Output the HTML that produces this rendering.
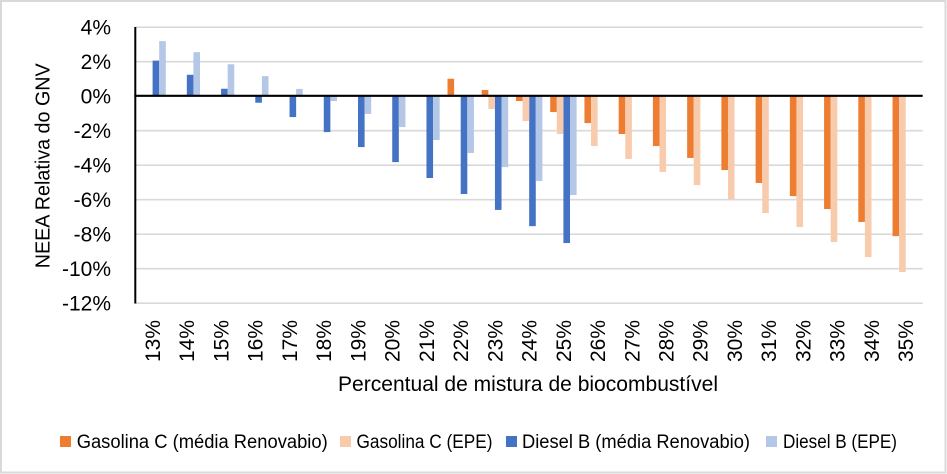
<!DOCTYPE html>
<html><head><meta charset="utf-8"><style>
html,body{margin:0;padding:0;background:#fff;}
svg{display:block;}
text{font-family:"Liberation Sans",Arial,sans-serif;fill:#000;}
</style></head><body>
<svg width="947" height="474" viewBox="0 0 947 474" xmlns="http://www.w3.org/2000/svg">
<rect x="0" y="0" width="947" height="474" fill="#fff"/>
<rect x="1" y="1" width="944.5" height="471.5" fill="none" stroke="#d9d9d9" stroke-width="2"/>
<g stroke="#d9d9d9" stroke-width="1.6">
<line x1="135.3" y1="27.2" x2="922.7" y2="27.2"/>
<line x1="135.3" y1="61.7" x2="922.7" y2="61.7"/>
<line x1="135.3" y1="130.7" x2="922.7" y2="130.7"/>
<line x1="135.3" y1="165.2" x2="922.7" y2="165.2"/>
<line x1="135.3" y1="199.7" x2="922.7" y2="199.7"/>
<line x1="135.3" y1="234.2" x2="922.7" y2="234.2"/>
<line x1="135.3" y1="268.7" x2="922.7" y2="268.7"/>
<line x1="135.3" y1="303.2" x2="922.7" y2="303.2"/>
</g>
<!-- Diesel B (média Renovabio) -->
<g fill="#4472c4">
<rect x="152.6" y="60.62" width="6.6" height="35.38"/>
<rect x="186.83" y="74.77" width="6.6" height="21.23"/>
<rect x="221.07" y="88.75" width="6.6" height="7.25"/>
<rect x="255.30" y="96" width="6.6" height="6.73"/>
<rect x="289.54" y="96" width="6.6" height="21.06"/>
<rect x="323.77" y="96" width="6.6" height="36.07"/>
<rect x="358.0" y="96" width="6.6" height="51.09"/>
<rect x="392.24" y="96" width="6.6" height="66.11"/>
<rect x="426.47" y="96" width="6.6" height="81.99"/>
<rect x="460.71" y="96" width="6.6" height="98.04"/>
<rect x="494.94" y="96" width="6.6" height="113.92"/>
<rect x="529.17" y="96" width="6.6" height="130.14"/>
<rect x="563.41" y="96" width="6.6" height="147.06"/>
</g>
<!-- Diesel B (EPE) -->
<g fill="#b4c7e7">
<rect x="159.2" y="41.11" width="6.6" height="54.89"/>
<rect x="193.43" y="52.16" width="6.6" height="43.84"/>
<rect x="227.67" y="64.24" width="6.6" height="31.76"/>
<rect x="261.90" y="76.15" width="6.6" height="19.85"/>
<rect x="296.14" y="88.92" width="6.6" height="7.08"/>
<rect x="330.37" y="96" width="6.6" height="5.01"/>
<rect x="364.6" y="96" width="6.6" height="17.95"/>
<rect x="398.84" y="96" width="6.6" height="31.07"/>
<rect x="433.07" y="96" width="6.6" height="44.01"/>
<rect x="467.31" y="96" width="6.6" height="56.96"/>
<rect x="501.54" y="96" width="6.6" height="71.11"/>
<rect x="535.77" y="96" width="6.6" height="85.09"/>
<rect x="570.01" y="96" width="6.6" height="99.07"/>
</g>
<!-- Gasolina C (média Renovabio) -->
<g fill="#ed7d31">
<rect x="447.51" y="78.74" width="6.6" height="17.26"/>
<rect x="481.74" y="89.96" width="6.6" height="6.04"/>
<rect x="515.97" y="96" width="6.6" height="5.01"/>
<rect x="550.21" y="96" width="6.6" height="16.05"/>
<rect x="584.44" y="96" width="6.6" height="27.10"/>
<rect x="618.68" y="96" width="6.6" height="37.97"/>
<rect x="652.91" y="96" width="6.6" height="50.05"/>
<rect x="687.14" y="96" width="6.6" height="61.96"/>
<rect x="721.38" y="96" width="6.6" height="74.05"/>
<rect x="755.61" y="96" width="6.6" height="86.99"/>
<rect x="789.85" y="96" width="6.6" height="100.11"/>
<rect x="824.08" y="96" width="6.6" height="113.05"/>
<rect x="858.31" y="96" width="6.6" height="126.0"/>
<rect x="892.55" y="96" width="6.6" height="140.15"/>
</g>
<!-- Gasolina C (EPE) -->
<g fill="#f8cbad">
<rect x="488.34" y="96" width="6.6" height="12.95"/>
<rect x="522.57" y="96" width="6.6" height="25.03"/>
<rect x="556.81" y="96" width="6.6" height="37.97"/>
<rect x="591.04" y="96" width="6.6" height="50.05"/>
<rect x="625.28" y="96" width="6.6" height="63.0"/>
<rect x="659.51" y="96" width="6.6" height="75.94"/>
<rect x="693.74" y="96" width="6.6" height="89.06"/>
<rect x="727.98" y="96" width="6.6" height="103.04"/>
<rect x="762.21" y="96" width="6.6" height="117.02"/>
<rect x="796.45" y="96" width="6.6" height="131.0"/>
<rect x="830.68" y="96" width="6.6" height="146.02"/>
<rect x="864.91" y="96" width="6.6" height="161.04"/>
<rect x="899.15" y="96" width="6.6" height="176.05"/>
</g>
<line x1="134.3" y1="95.8" x2="922.7" y2="95.8" stroke="#000" stroke-width="2.2"/>
<line x1="135.3" y1="27" x2="135.3" y2="303.5" stroke="#000" stroke-width="2"/>
<!-- Y labels -->
<g font-size="21" text-anchor="end">
<text x="111" y="34.7">4%</text>
<text x="111" y="69.2">2%</text>
<text x="111" y="103.7">0%</text>
<text x="111" y="138.2">-2%</text>
<text x="111" y="172.7">-4%</text>
<text x="111" y="207.2">-6%</text>
<text x="111" y="241.7">-8%</text>
<text x="111" y="276.2">-10%</text>
<text x="111" y="310.7">-12%</text>
</g>
<text transform="translate(49.5,165.8) rotate(-90)" font-size="20" text-anchor="middle" textLength="205" lengthAdjust="spacingAndGlyphs">NEEA Relativa do GNV</text>
<!-- X labels -->
<g font-size="21" text-anchor="end">
<text transform="translate(160,320) rotate(-90)">13%</text>
<text transform="translate(194.2,320) rotate(-90)">14%</text>
<text transform="translate(228.5,320) rotate(-90)">15%</text>
<text transform="translate(262.7,320) rotate(-90)">16%</text>
<text transform="translate(296.9,320) rotate(-90)">17%</text>
<text transform="translate(331.2,320) rotate(-90)">18%</text>
<text transform="translate(365.4,320) rotate(-90)">19%</text>
<text transform="translate(399.6,320) rotate(-90)">20%</text>
<text transform="translate(433.9,320) rotate(-90)">21%</text>
<text transform="translate(468.1,320) rotate(-90)">22%</text>
<text transform="translate(502.3,320) rotate(-90)">23%</text>
<text transform="translate(536.6,320) rotate(-90)">24%</text>
<text transform="translate(570.8,320) rotate(-90)">25%</text>
<text transform="translate(605.0,320) rotate(-90)">26%</text>
<text transform="translate(639.3,320) rotate(-90)">27%</text>
<text transform="translate(673.5,320) rotate(-90)">28%</text>
<text transform="translate(707.7,320) rotate(-90)">29%</text>
<text transform="translate(742.0,320) rotate(-90)">30%</text>
<text transform="translate(776.2,320) rotate(-90)">31%</text>
<text transform="translate(810.4,320) rotate(-90)">32%</text>
<text transform="translate(844.7,320) rotate(-90)">33%</text>
<text transform="translate(878.9,320) rotate(-90)">34%</text>
<text transform="translate(913.1,320) rotate(-90)">35%</text>
</g>
<text x="338" y="391" font-size="21" textLength="380" lengthAdjust="spacingAndGlyphs">Percentual de mistura de biocombustível</text>
<!-- Legend -->
<rect x="60" y="436" width="11" height="11" fill="#ed7d31"/>
<text x="76.7" y="448" font-size="19" textLength="251" lengthAdjust="spacingAndGlyphs">Gasolina C (média Renovabio)</text>
<rect x="340" y="436" width="11" height="11" fill="#f8cbad"/>
<text x="356.5" y="448" font-size="19" textLength="136" lengthAdjust="spacingAndGlyphs">Gasolina C (EPE)</text>
<rect x="506" y="436" width="11" height="11" fill="#4472c4"/>
<text x="522" y="448" font-size="19" textLength="228" lengthAdjust="spacingAndGlyphs">Diesel B (média Renovabio)</text>
<rect x="766" y="436" width="11" height="11" fill="#b4c7e7"/>
<text x="783" y="448" font-size="19" textLength="114" lengthAdjust="spacingAndGlyphs">Diesel B (EPE)</text>
</svg>
</body></html>
